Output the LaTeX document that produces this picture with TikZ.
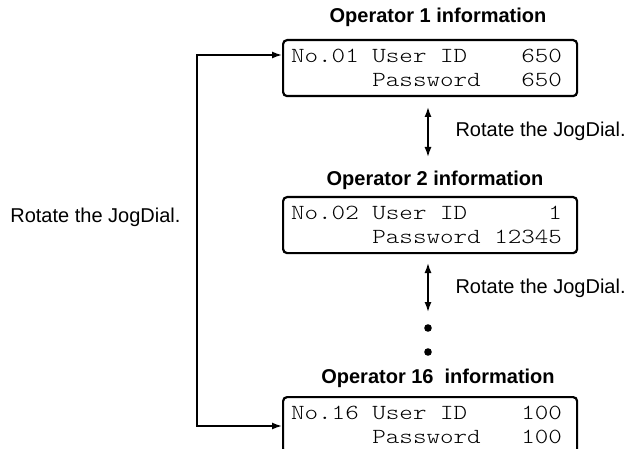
\documentclass[tikz,border=0pt]{standalone}
\usepackage{fontspec}
\setmainfont{Liberation Sans}
\setmonofont{lmmonolt10-regular.otf}[FakeStretch=1.2]
\usetikzlibrary{arrows.meta}
\newcommand{\pad}[1]{\hphantom{#1}}
\tikzset{
  lcd/.style={draw, line width=2.2pt, rounded corners=4pt, anchor=north west,
    minimum width=294pt, minimum height=56pt, text width=278pt,
    inner xsep=8pt, inner ysep=0pt, align=left,
    font=\fontsize{21.5}{24}\ttfamily},
  title/.style={font=\fontsize{20}{23}\selectfont\bfseries},
  hint/.style={font=\fontsize{20}{23}\selectfont},
  flow/.style={line width=1.5pt, {Latex[length=10pt,width=7pt]}-{Latex[length=10pt,width=7pt]}},
}
\begin{document}
\begin{tikzpicture}[x=1pt,y=-1pt]
  \useasboundingbox (0,0) rectangle (634,449);
  % titles
  \node[title] (t1) at (438,17) {Operator 1 information};
  \node[title] (t2) at (435,180) {Operator 2 information};
  \node[title] (t16) at (438,378) {Operator 16\ \ information};
  % displays
  \node[lcd] (op1) at (282,39)
    {No.01\pad{0}User\pad{0}ID\pad{0000}650\\\pad{000000}Password\pad{000}650};
  \node[lcd] (op2) at (282,196)
    {No.02\pad{0}User\pad{0}ID\pad{000000}1\\\pad{000000}Password\pad{0}12345};
  \node[lcd] (op16) at (282,396)
    {No.16\pad{0}User\pad{0}ID\pad{0000}100\\\pad{000000}Password\pad{000}100};
  % jog dial steps
  \coordinate (s1a) at (428,107);
  \coordinate (s1b) at (428,157);
  \coordinate (s2a) at (428,263);
  \coordinate (s2b) at (428,312);
  \draw[flow] (s1a) -- (s1b);
  \draw[flow] (s2a) -- (s2b);
  \node[hint, anchor=west] (h1) at (452,131) {Rotate the JogDial.};
  \node[hint, anchor=west] (h2) at (452,288) {Rotate the JogDial.};
  \fill (428,328) circle (3.8pt);
  \fill (428,352) circle (3.8pt);
  % loop back
  \coordinate (loopTop) at (197,55);
  \coordinate (loopBot) at (197,426);
  \draw[flow] (op1.west |- loopTop) -- (loopTop) -- (loopBot) -- (op16.west |- loopBot);
  \node[hint, anchor=east] (hl) at (184,217) {Rotate the JogDial.};
\end{tikzpicture}
\end{document}
